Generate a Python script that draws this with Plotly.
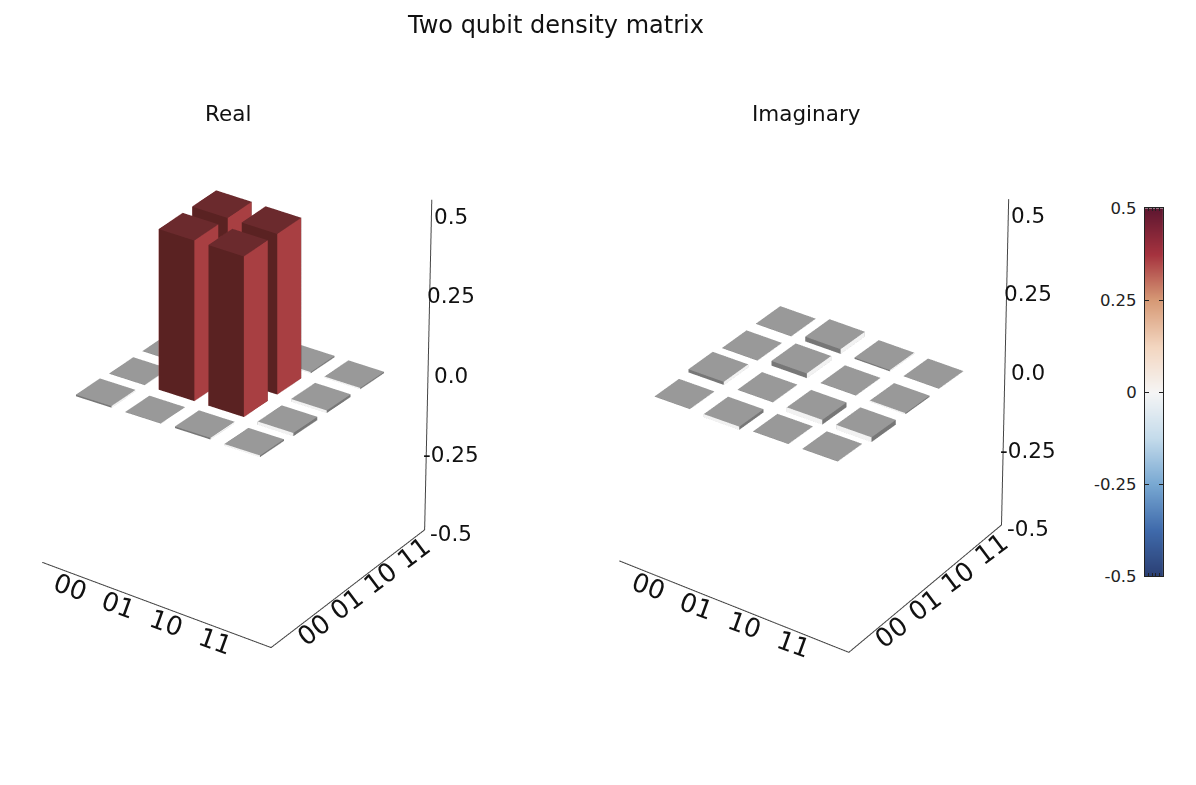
import plotly.graph_objects as go

labels = ["00", "01", "10", "11"]
z_ticks = [-0.5, -0.25, 0, 0.25, 0.5]
z_tick_text = ["-0.5", "-0.25", "0.0", "0.25", "0.5"]
bar_ticks = ["-0.5", "-0.25", "0", "0.25", "0.5"]
cells = [0, 1, 2, 3]

# rows are y index, columns are x index
real_values = [
    [0.005, 0.001, 0.005, -0.005],
    [0.001, 0.5, 0.5, -0.01],
    [0.001, 0.5, 0.5, -0.008],
    [0.001, 0.001, -0.004, -0.004],
]
imag_values = [
    [0.001, -0.01, 0.001, 0.001],
    [0.01, 0.001, -0.015, -0.015],
    [0.001, 0.015, 0.001, -0.004],
    [0.001, 0.015, 0.004, 0.001],
]

colorscale = [
    [0, "#2b3f73"], [0.125, "#3f6aab"], [0.25, "#78a8d2"], [0.375, "#c4dbeb"],
    [0.5, "#f5f5f5"], [0.625, "#f3d6c0"], [0.75, "#d79a76"], [0.875, "#a6333f"],
    [1, "#5e1730"],
]

half = 0.36
x_lo, x_hi = -0.75, 4.0
y_lo, y_hi = -0.9, 3.7
z_lo, z_hi = -0.5, 0.54
lean = 0.1  # the z axis leans a little to the right towards its top
pad = 0.05


def bars_mesh(values, scene):
    xs, ys, zs, i, j, k, colors = [], [], [], [], [], [], []
    for yi, row in enumerate(values):
        for xi, v in enumerate(row):
            n = len(xs)
            for dz in (0, v):
                for dx, dy in ((-half, -half), (half, -half), (half, half), (-half, half)):
                    xs.append(xi + dx)
                    ys.append(yi + dy)
                    zs.append(dz)
            if abs(v) > 0.1:
                top, left, right = "#6b2a2d", "#5a2222", "#a83f42"
            elif v > 0:
                top, left, right = "#999999", "#777777", "#f2f2f2"
            else:
                top, left, right = "#999999", "#f2f2f2", "#777777"
            faces = [
                ((4, 5, 6), top), ((4, 6, 7), top),
                ((0, 1, 2), top), ((0, 2, 3), top),
                ((0, 1, 5), left), ((0, 5, 4), left),
                ((1, 2, 6), right), ((1, 6, 5), right),
                ((2, 3, 7), left), ((2, 7, 6), left),
                ((3, 0, 4), right), ((3, 4, 7), right),
            ]
            for (a, b, c), col in faces:
                i.append(n + a)
                j.append(n + b)
                k.append(n + c)
                colors.append(col)
    return go.Mesh3d(
        x=xs, y=ys, z=zs, i=i, j=j, k=k, facecolor=colors, flatshading=True,
        lighting=dict(ambient=1, diffuse=0, specular=0, roughness=1, fresnel=0),
        hoverinfo="skip", scene=scene, showscale=False,
    )


def frame_lines(scene):
    return go.Scatter3d(
        x=[x_lo, x_hi, x_hi, x_hi + lean],
        y=[y_lo, y_lo, y_hi, y_hi + lean * 0.7],
        z=[z_lo, z_lo, z_lo, z_hi],
        mode="lines", line=dict(color="#444444", width=2),
        hoverinfo="skip", scene=scene, showlegend=False,
    )


fig = go.Figure()
# the reference has a slight perspective, so the bars and the axis frame
# get their own orthographic scene with a camera fitted to each
fig.add_trace(bars_mesh(real_values, "scene"))
fig.add_trace(bars_mesh(imag_values, "scene2"))
fig.add_trace(frame_lines("scene3"))
fig.add_trace(frame_lines("scene4"))

# colour bar drawn as a small heatmap so its labels can sit on the left
fig.add_trace(go.Heatmap(
    x=[0, 1], y=z_ticks, z=[[v, v] for v in z_ticks], zmin=-0.5, zmax=0.5,
    colorscale=colorscale, zsmooth="best", showscale=False, hoverinfo="skip",
))

font = "DejaVu Sans"


def axis_labels():
    notes = []
    base = dict(showarrow=False, xanchor="center", yanchor="middle")
    for c, t in zip(cells, labels):
        notes.append(dict(base, x=c, y=y_lo, z=z_lo, text=t, textangle=20, xshift=-8, yshift=-11,
                          font=dict(family=font, size=26, color="#111111")))
        notes.append(dict(base, x=x_hi, y=c, z=z_lo, text=t, textangle=-37, xshift=12, yshift=-5,
                          font=dict(family=font, size=26, color="#111111")))
    for v, t in zip(z_ticks, z_tick_text):
        notes.append(dict(base, x=x_hi, y=y_hi, z=v, text=t, xshift=26, yshift=-4,
                          font=dict(family=font, size=21.5, color="#111111")))
    return notes


off = dict(visible=False, showspikes=False)


def marks_scene(domain, y_domain, eye):
    return dict(
        domain=dict(x=domain, y=y_domain),
        xaxis=dict(off, range=[-0.5, 3.5]),
        yaxis=dict(off, range=[-0.5, 3.5]),
        zaxis=dict(off, range=[-0.6, 0.6]),
        aspectmode="manual",
        aspectratio=dict(x=0.863, y=0.842, z=1.561),
        camera=dict(eye=eye, center=dict(x=0, y=0, z=0), projection=dict(type="orthographic")),
    )


def frame_scene(domain, y_domain, eye, z_aspect):
    return dict(
        domain=dict(x=domain, y=y_domain),
        xaxis=dict(off, range=[x_lo - pad, x_hi + lean + pad]),
        yaxis=dict(off, range=[y_lo - pad, y_hi + lean * 0.7 + pad]),
        zaxis=dict(off, range=[z_lo - 0.01, z_hi + 0.01]),
        aspectmode="manual",
        aspectratio=dict(x=1.042, y=0.998, z=z_aspect),
        camera=dict(eye=eye, center=dict(x=0, y=0, z=0), projection=dict(type="orthographic")),
        annotations=axis_labels(),
    )


fig.update_layout(
    width=1180, height=769,
    margin=dict(l=0, r=0, t=0, b=0),
    paper_bgcolor="white",
    showlegend=False,
    hovermode=False,
    scene=marks_scene([0.0, 0.3766], [0.1387, 0.8827], dict(x=0.659, y=-0.954, z=0.610)),
    scene2=marks_scene([0.4888, 0.8688], [0.1388, 0.8828], dict(x=0.650, y=-0.925, z=0.661)),
    scene3=frame_scene([0.0, 0.3884], [0.1427, 0.8867], dict(x=0.633, y=-0.908, z=0.700), 1.427),
    scene4=frame_scene([0.4936, 0.8736], [0.144, 0.888], dict(x=0.608, y=-0.880, z=0.755), 1.457),
    xaxis=dict(domain=[0.9635, 0.9788], range=[0, 1], tickvals=[0.2, 0.4, 0.6, 0.8],
               showticklabels=False, ticks="inside", ticklen=3, mirror="ticks",
               showline=True, linecolor="#222222", linewidth=1, tickcolor="#222222",
               showgrid=False, zeroline=False),
    yaxis=dict(domain=[0.2547, 0.745], range=[-0.5, 0.5], tickvals=z_ticks, ticktext=bar_ticks,
               ticks="inside", ticklen=4, mirror="ticks", ticklabelstandoff=4,
               showline=True, linecolor="#222222", linewidth=1, tickcolor="#222222",
               showgrid=False, zeroline=False, tickfont=dict(family=font, size=16.5, color="#222222")),
    annotations=[
        dict(text="Two qubit density matrix", x=0.464, y=0.989, xref="paper", yref="paper",
             xanchor="center", yanchor="middle", showarrow=False,
             font=dict(family=font, size=24, color="#111111")),
        dict(text="Real", x=0.1866, y=0.872, xref="paper", yref="paper",
             xanchor="center", yanchor="middle", showarrow=False,
             font=dict(family=font, size=21.5, color="#111111")),
        dict(text="Imaginary", x=0.677, y=0.872, xref="paper", yref="paper",
             xanchor="center", yanchor="middle", showarrow=False,
             font=dict(family=font, size=21.5, color="#111111")),
    ],
)

fig.write_html("out.html")
